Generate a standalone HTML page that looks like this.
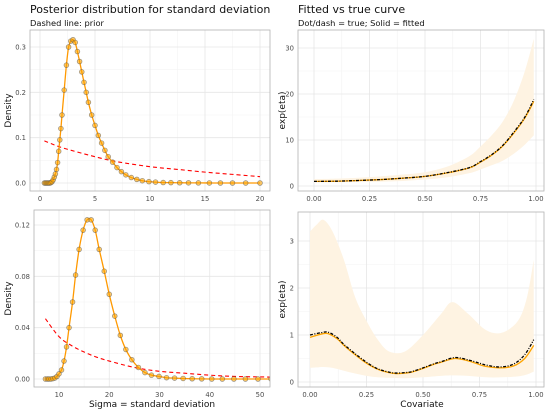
<!DOCTYPE html>
<html><head><meta charset="utf-8"><style>
body{margin:0;background:#fff;font-family:"Liberation Sans","DejaVu Sans",sans-serif}
svg text{font-family:"DejaVu Sans","Liberation Sans",sans-serif}
</style></head><body>
<svg id="c" width="550" height="413" viewBox="0 0 550 413" xmlns="http://www.w3.org/2000/svg">
<text x="30" y="13" font-size="11" fill="#111">Posterior distribution for standard deviation</text>
<text x="30" y="26" font-size="8.3" fill="#111">Dashed line: prior</text>
<text x="298" y="13" font-size="11" fill="#111">Fitted vs true curve</text>
<text x="298" y="26" font-size="8.3" fill="#111">Dot/dash = true; Solid = fitted</text>
<text x="152" y="407" font-size="9" text-anchor="middle" fill="#111">Sigma = standard deviation</text>
<text x="422" y="407" font-size="9" text-anchor="middle" fill="#111">Covariate</text>
</svg>
<script>
// Panel 1: posterior of sigma (small)
const p1X=[0.4,0.5,0.6,0.7,0.8,0.9,1.0,1.1,1.2,1.3,1.4,1.5,1.6,1.7,1.8,1.9,2.0,2.2,2.4,2.6,2.8,3.0,3.2,3.4,3.6,3.8,4.0,4.2,4.4,4.7,5.0,5.3,5.6,5.9,6.2,6.6,7.0,7.4,7.8,8.3,8.8,9.3,9.9,10.5,11.2,11.9,12.7,13.5,14.4,15.4,16.4,17.5,18.7,20];
const p1Y=[0,0,0,0,0,0,0.001,0.003,0.007,0.013,0.02,0.03,0.045,0.07,0.095,0.12,0.15,0.205,0.26,0.30,0.313,0.316,0.31,0.29,0.268,0.245,0.222,0.2,0.178,0.15,0.127,0.105,0.088,0.072,0.058,0.046,0.034,0.025,0.018,0.012,0.008,0.005,0.003,0.002,0.001,0.0008,0.0005,0.0003,0.0002,0.0001,0,0,0,0];
const pr1X=[0.4,2,5,7,10,12.5,15,17.5,20];
const pr1Y=[0.093,0.078,0.058,0.047,0.036,0.03,0.024,0.019,0.014];
// Panel 2: posterior of sigma (large)
const p2X=[7.3,7.7,8.0,8.4,8.8,9.2,9.6,10.0,10.5,11.0,11.5,12.0,12.7,13.3,14.0,14.8,15.6,16.4,17.2,18.0,19.0,20.0,21.1,22.2,23.3,24.5,25.8,27.1,28.4,29.9,31.4,33.0,34.7,36.5,38.4,40.4,42.5,44.8,47.1,49.6,52.2];
const p2Y=[0,0,0,0,0.0003,0.0008,0.002,0.004,0.007,0.014,0.025,0.040,0.060,0.081,0.101,0.116,0.124,0.124,0.116,0.101,0.084,0.066,0.049,0.034,0.023,0.015,0.009,0.005,0.003,0.002,0.001,0.0007,0.0004,0.0002,0.0001,0,0,0,0,0,0];
const pr2X=[7.3,10,12.5,15,17.5,20,25,30,35,40,45,52];
const pr2Y=[0.047,0.033,0.026,0.021,0.017,0.014,0.009,0.006,0.0045,0.003,0.002,0.0015];
// Panel 3: exponential curve
const c3X=[0,0.1,0.2,0.3,0.4,0.5,0.6,0.7,0.75,0.8,0.85,0.9,0.95,0.99];
const t3Y=[1.0,1.05,1.2,1.4,1.7,2.1,2.9,4.0,5.3,6.8,8.8,11.7,15.0,18.8];
const f3Y=[1.0,1.05,1.2,1.4,1.7,2.1,2.85,3.95,5.2,6.7,8.7,11.5,14.8,18.4];
const lo3Y=[0.8,0.85,0.88,0.95,1.1,1.4,1.9,2.8,3.6,4.5,5.5,7,9,11];
const hi3Y=[1.5,1.6,1.8,2.1,2.5,3,4.2,6.5,8.6,11,14,18.5,25,32];
// Panel 4: wiggly curve
const c4X=[0,0.05,0.08,0.12,0.15,0.2,0.25,0.3,0.35,0.38,0.42,0.45,0.5,0.55,0.58,0.64,0.7,0.75,0.78,0.84,0.9,0.95,0.99];
const t4Y=[1.0,1.05,1.06,0.95,0.8,0.6,0.42,0.28,0.21,0.19,0.2,0.22,0.3,0.39,0.43,0.52,0.47,0.4,0.36,0.32,0.38,0.58,0.9];
const f4Y=[0.95,1.02,1.03,0.92,0.78,0.58,0.4,0.27,0.2,0.18,0.19,0.21,0.29,0.38,0.42,0.5,0.45,0.37,0.33,0.3,0.34,0.5,0.78];
const b4X=[0,0.03,0.06,0.1,0.15,0.2,0.25,0.3,0.35,0.42,0.5,0.58,0.63,0.7,0.78,0.85,0.92,0.96,0.99];
const lo4Y=[0.3,0.31,0.32,0.3,0.24,0.18,0.13,0.1,0.09,0.08,0.1,0.13,0.14,0.13,0.1,0.1,0.12,0.16,0.22];
const hi4Y=[3.2,3.35,3.45,3.2,2.6,1.8,1.3,0.9,0.65,0.65,1.0,1.45,1.7,1.45,1.1,1.05,1.3,1.8,2.6];

const NS="http://www.w3.org/2000/svg";
const svg=document.getElementById('c');
function mk(tag,attrs,parent){const e=document.createElementNS(NS,tag);for(const k in attrs)e.setAttribute(k,attrs[k]);(parent||svg).appendChild(e);return e;}
function smooth(pts){if(pts.length<3)return 'M'+pts.map(p=>p.join(',')).join('L');let d='M'+pts[0][0]+','+pts[0][1];for(let i=0;i<pts.length-1;i++){const p0=pts[Math.max(0,i-1)],p1=pts[i],p2=pts[i+1],p3=pts[Math.min(pts.length-1,i+2)];const c1=[p1[0]+(p2[0]-p0[0])/6,p1[1]+(p2[1]-p0[1])/6],c2=[p2[0]-(p3[0]-p1[0])/6,p2[1]-(p3[1]-p1[1])/6];d+='C'+c1.join(',')+' '+c2.join(',')+' '+p2.join(',');}return d;}

function panel(cfg){
  const g=mk('g',{});
  
  
  const sx=v=>cfg.x0+(v-cfg.xd[0])/(cfg.xd[1]-cfg.xd[0])*(cfg.x1-cfg.x0);
  const sy=v=>cfg.y0+(v-cfg.yd[0])/(cfg.yd[1]-cfg.yd[0])*(cfg.y1-cfg.y0);
  cfg.xMinor.forEach(v=>mk('line',{x1:sx(v),x2:sx(v),y1:cfg.top,y2:cfg.bot,stroke:'#f3f3f3','stroke-width':0.6},g));
  cfg.yMinor.forEach(v=>mk('line',{x1:cfg.left,x2:cfg.right,y1:sy(v),y2:sy(v),stroke:'#f3f3f3','stroke-width':0.6},g));
  cfg.xTicks.forEach((v,i)=>{mk('line',{x1:sx(v),x2:sx(v),y1:cfg.top,y2:cfg.bot,stroke:'#e6e6e6','stroke-width':0.8},g);
    const t=mk('text',{x:sx(v),y:cfg.bot+10,'font-size':6.8,'text-anchor':'middle',fill:'#4d4d4d'},g);t.textContent=cfg.xLab[i];
    
    });
  cfg.yTicks.forEach((v,i)=>{mk('line',{x1:cfg.left,x2:cfg.right,y1:sy(v),y2:sy(v),stroke:'#e6e6e6','stroke-width':0.8},g);
    const t=mk('text',{x:cfg.left-4,y:sy(v)+2.5,'font-size':6.8,'text-anchor':'end',fill:'#4d4d4d'},g);t.textContent=cfg.yLab[i];
    
    });
  const yt=mk('text',{transform:`translate(${cfg.ytx},${(cfg.top+cfg.bot)/2}) rotate(-90)`,'font-size':9,'text-anchor':'middle',fill:'#111'},g);
  yt.textContent=cfg.yTitle;
  
  
  const clip='clip'+cfg.name;
  const cp=mk('clipPath',{id:clip},g);mk('rect',{x:cfg.left,y:cfg.top,width:cfg.right-cfg.left,height:cfg.bot-cfg.top},cp);
  const body=mk('g',{'clip-path':`url(#${clip})`},g);
  cfg.draw(body,sx,sy);
  const r=mk('rect',{x:cfg.left,y:cfg.top,width:cfg.right-cfg.left,height:cfg.bot-cfg.top,fill:'none',stroke:'#b3b3b3','stroke-width':0.8},g);
  
  
}
function posterior(body,sx,sy,X,Y,PX,PY){
  const pr=mk('path',{d:smooth(PX.map((v,i)=>[sx(v),sy(PY[i])])),fill:'none',stroke:'#ff0000','stroke-width':1.1,'stroke-dasharray':'4,3'},body);
  
  
  const ln=mk('path',{d:smooth(X.map((v,i)=>[sx(v),sy(Y[i])])),fill:'none',stroke:'#ff9900','stroke-width':1.3},body);
  
  
  X.forEach((v,i)=>{const c=mk('circle',{cx:sx(v),cy:sy(Y[i]),r:2.4,fill:'#ffa500','fill-opacity':0.6,stroke:'#555','stroke-opacity':0.6,'stroke-width':0.7},body);
    
    });
}
function curves(body,sx,sy,X,T,F,BX,LO,HI){
  const pts=BX.map((v,i)=>[sx(v),sy(HI[i])]);const lo=BX.map((v,i)=>[sx(v),sy(LO[i])]).reverse();
  const band=mk('path',{d:smooth(pts)+'L'+smooth(lo).slice(1)+'Z',fill:'#fef3e2',stroke:'none'},body);
  
  
  const f=mk('path',{d:smooth(X.map((v,i)=>[sx(v),sy(F[i])])),fill:'none',stroke:'#ffa500','stroke-width':1.3},body);
  
  
  const t=mk('path',{d:smooth(X.map((v,i)=>[sx(v),sy(T[i])])),fill:'none',stroke:'#000','stroke-width':1.3,'stroke-dasharray':'3,1.5,1,1.5'},body);
  
  
}
panel({name:'panel-sigma-small',left:30,right:270,top:30,bot:191,x0:40,x1:260,xd:[0,20],y0:183,y1:47,yd:[0,0.3],ytx:11,
  xTicks:[0,5,10,15,20],xLab:['0','5','10','15','20'],xMinor:[2.5,7.5,12.5,17.5],
  yTicks:[0,0.1,0.2,0.3],yLab:['0.0','0.1','0.2','0.3'],yMinor:[0.05,0.15,0.25],yTitle:'Density',
  draw:(b,sx,sy)=>posterior(b,sx,sy,p1X,p1Y,pr1X,pr1Y)});
panel({name:'panel-sigma-large',left:34,right:270,top:210,bot:387,x0:59,x1:260,xd:[10,50],y0:379,y1:225,yd:[0,0.12],ytx:11,
  xTicks:[10,20,30,40,50],xLab:['10','20','30','40','50'],xMinor:[15,25,35,45],
  yTicks:[0,0.04,0.08,0.12],yLab:['0.00','0.04','0.08','0.12'],yMinor:[0.02,0.06,0.10],yTitle:'Density',
  draw:(b,sx,sy)=>posterior(b,sx,sy,p2X,p2Y,pr2X,pr2Y)});
panel({name:'panel-fit-exp',left:298,right:544,top:30,bot:191,x0:314,x1:536,xd:[0,1],y0:186,y1:48,yd:[0,30],ytx:285,
  xTicks:[0,0.25,0.5,0.75,1],xLab:['0.00','0.25','0.50','0.75','1.00'],xMinor:[0.125,0.375,0.625,0.875],
  yTicks:[0,10,20,30],yLab:['0','10','20','30'],yMinor:[5,15,25],yTitle:'exp(eta)',
  draw:(b,sx,sy)=>curves(b,sx,sy,c3X,t3Y,f3Y,c3X,lo3Y,hi3Y)});
panel({name:'panel-fit-wiggle',left:298,right:544,top:212,bot:387,x0:310,x1:536,xd:[0,1],y0:382,y1:241,yd:[0,3],ytx:285,
  xTicks:[0,0.25,0.5,0.75,1],xLab:['0.00','0.25','0.50','0.75','1.00'],xMinor:[0.125,0.375,0.625,0.875],
  yTicks:[0,1,2,3],yLab:['0','1','2','3'],yMinor:[0.5,1.5,2.5],yTitle:'exp(eta)',
  draw:(b,sx,sy)=>curves(b,sx,sy,c4X,t4Y,f4Y,b4X,lo4Y,hi4Y)});
</script>
</body></html>
